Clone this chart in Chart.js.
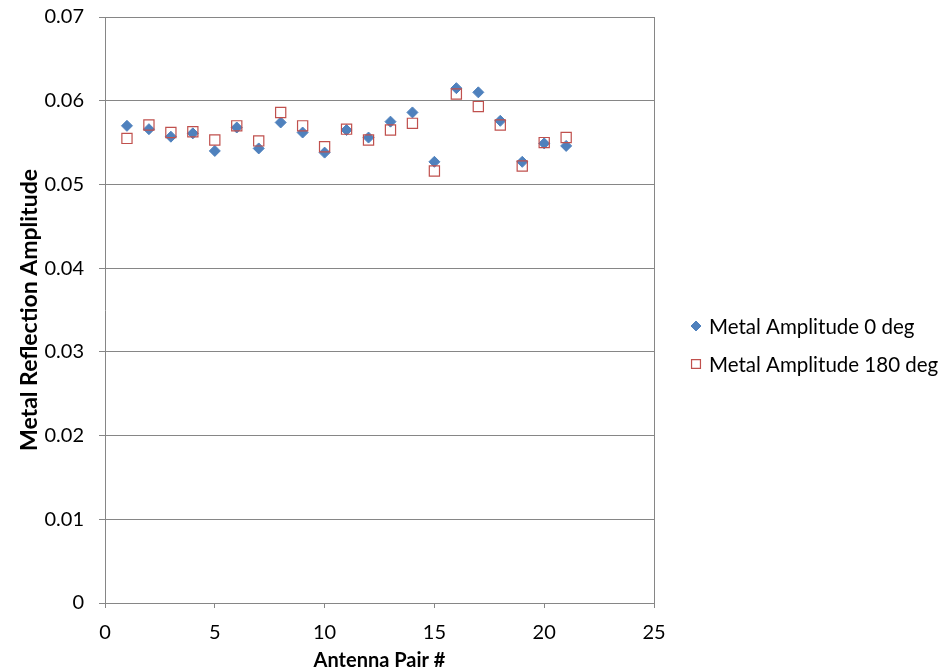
<!DOCTYPE html>
<html>
<head>
<meta charset="utf-8">
<script src="https://cdn.jsdelivr.net/npm/chart.js@4.4.1/dist/chart.umd.min.js"></script>
<style>
  html, body { margin: 0; padding: 0; background: #ffffff; }
  #wrap { width: 952px; height: 672px; position: relative; }
</style>
</head>
<body>
<div id="wrap"><canvas id="chart" width="952" height="672"></canvas></div>
<script>
// Antenna pair numbers
const antennaPairs = [1, 2, 3, 4, 5, 6, 7, 8, 9, 10, 11, 12, 13, 14, 15, 16, 17, 18, 19, 20, 21];

// Metal reflection amplitude, 0 deg
const amp0 = [0.0570, 0.0566, 0.0557, 0.0561, 0.0540, 0.0568, 0.0543, 0.0574, 0.0562, 0.0538,
              0.0565, 0.0556, 0.0575, 0.0586, 0.0527, 0.0615, 0.0610, 0.0576, 0.0527, 0.0549, 0.0546];

// Metal reflection amplitude, 180 deg
const amp180 = [0.0555, 0.0571, 0.0562, 0.0563, 0.0553, 0.0570, 0.0552, 0.0586, 0.0570, 0.0545,
                0.0566, 0.0553, 0.0565, 0.0573, 0.0516, 0.0608, 0.0593, 0.0571, 0.0522, 0.0550, 0.0556];

const seriesNames = ['Metal Amplitude 0 deg', 'Metal Amplitude 180 deg'];
const xTitle = 'Antenna Pair #';
const yTitle = 'Metal Reflection Amplitude';

const FONT = 'Lato, "Open Sans", "Liberation Sans", sans-serif';
const AXIS_GREY = '#868686';

// Wanted plot-area edges (px)
const PLOT_TOP = 17;
const PLOT_RIGHT = 654;

const toPoints = (xs, ys) => xs.map((x, i) => ({ x: x, y: ys[i] }));

// Legend drawn to the right of the plot area
const sideLegend = {
  id: 'sideLegend',
  afterDraw(chart) {
    const ctx = chart.ctx;
    const items = [
      { ds: chart.data.datasets[0], y: 326, r: 5 },
      { ds: chart.data.datasets[1], y: 364, r: 6.3 }
    ];
    ctx.save();
    ctx.font = '20.5px ' + FONT;
    ctx.textBaseline = 'middle';
    items.forEach(it => {
      ctx.fillStyle = it.ds.pointBackgroundColor;
      ctx.strokeStyle = it.ds.pointBorderColor;
      ctx.lineWidth = it.ds.pointBorderWidth;
      Chart.helpers.drawPoint(ctx, { pointStyle: it.ds.pointStyle, radius: it.r, borderWidth: it.ds.pointBorderWidth }, 696, it.y);
      ctx.fillStyle = '#000000';
      ctx.fillText(it.ds.label, 709, it.y + 1);
    });
    ctx.restore();
  }
};

const chart = new Chart(document.getElementById('chart'), {
  type: 'scatter',
  data: {
    datasets: [
      {
        label: seriesNames[0],
        data: toPoints(antennaPairs, amp0),
        pointStyle: 'rectRot',
        pointRadius: 5.5,
        pointHoverRadius: 5.5,
        pointBackgroundColor: '#4F81BD',
        pointBorderColor: '#4F81BD',
        pointBorderWidth: 1,
        showLine: false,
        order: 1
      },
      {
        label: seriesNames[1],
        data: toPoints(antennaPairs, amp180),
        pointStyle: 'rect',
        pointRadius: 7.2,
        pointHoverRadius: 7.2,
        pointBackgroundColor: 'rgba(255,255,255,0)',
        pointBorderColor: '#C0504D',
        pointBorderWidth: 1.2,
        showLine: false,
        order: 0
      }
    ]
  },
  options: {
    responsive: false,
    animation: false,
    devicePixelRatio: 1,
    layout: { padding: { top: PLOT_TOP, right: 952 - PLOT_RIGHT, left: 0, bottom: 0 } },
    plugins: {
      legend: { display: false },
      tooltip: { enabled: false }
    },
    scales: {
      x: {
        type: 'linear',
        min: 0,
        max: 25,
        afterFit(scale) { scale.height = 69; },
        ticks: {
          stepSize: 5,
          color: '#000000',
          font: { family: FONT, size: 20 },
          padding: 13,
          maxRotation: 0
        },
        grid: {
          color: ctx => (ctx.tick && ctx.tick.value === 25 ? AXIS_GREY : 'rgba(0,0,0,0)'),
          tickColor: AXIS_GREY,
          tickLength: 5,
          lineWidth: 1
        },
        border: { color: AXIS_GREY, width: 1 },
        title: {
          display: true,
          text: xTitle,
          color: '#000000',
          font: { family: FONT, size: 20, weight: 'bold' },
          padding: { top: 0, bottom: -1 }
        }
      },
      y: {
        type: 'linear',
        min: 0,
        max: 0.07,
        afterFit(scale) {
          scale.width = 105;
          // the top label may overhang the plot area; keep the area edge fixed
          scale.paddingTop = 0;
          scale.paddingBottom = 0;
        },
        ticks: {
          stepSize: 0.01,
          color: '#000000',
          font: { family: FONT, size: 20 },
          padding: 15,
          callback: v => (v === 0 ? '0' : v.toFixed(2))
        },
        grid: {
          color: AXIS_GREY,
          tickColor: AXIS_GREY,
          tickLength: 6,
          lineWidth: 1
        },
        border: { color: AXIS_GREY, width: 1 },
        title: {
          display: true,
          text: yTitle,
          color: '#000000',
          font: { family: FONT, size: 23, weight: 'bold' },
          padding: { top: 16, bottom: 0 }
        }
      }
    }
  },
  plugins: [sideLegend]
});
</script>
</body>
</html>
